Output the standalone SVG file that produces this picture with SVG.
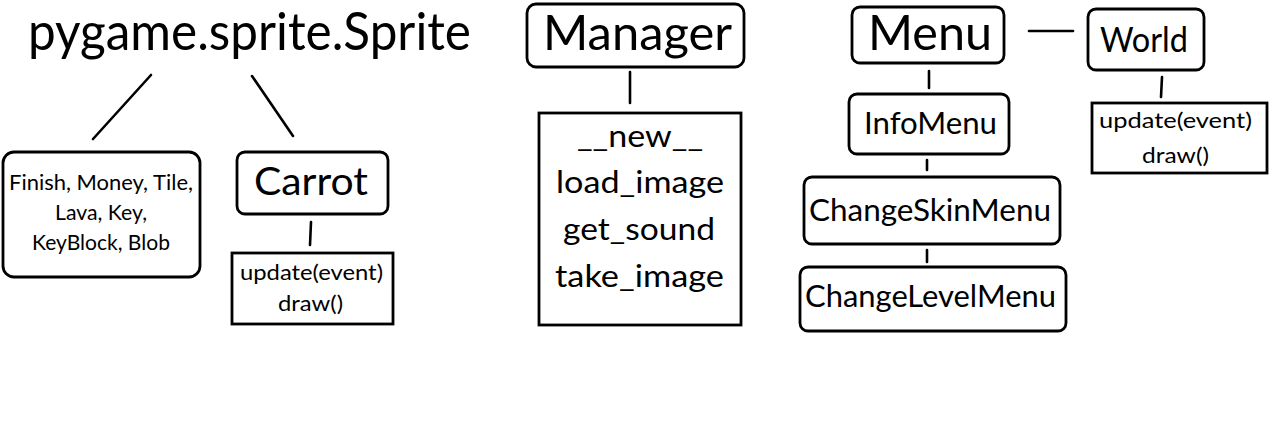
<svg xmlns="http://www.w3.org/2000/svg" width="1280" height="429" viewBox="0 0 1280 429">
<style>
text{font-family:Lato,"Open Sans","Noto Sans",sans-serif;fill:#000;text-anchor:middle}
.b{fill:#fff;stroke:#000;stroke-width:2.8}
.c line{stroke:#000;stroke-width:2.6;stroke-linecap:round}
</style>
<rect width="1280" height="429" fill="#fff"/>
<g id="sprite"><text x="249.5" y="50" font-size="52" textLength="443" lengthAdjust="spacingAndGlyphs">pygame.sprite.Sprite</text></g>
<g id="sprites">
<rect class="b" x="3" y="152" width="197" height="125" rx="11"/>
<text x="101" y="190" font-size="21" textLength="184" lengthAdjust="spacingAndGlyphs">Finish, Money, Tile,</text>
<text x="101" y="220" font-size="21" textLength="92" lengthAdjust="spacingAndGlyphs">Lava, Key,</text>
<text x="101" y="250" font-size="21" textLength="138" lengthAdjust="spacingAndGlyphs">KeyBlock, Blob</text>
</g>
<g id="carrot">
<rect class="b" x="237" y="152" width="151" height="62" rx="8"/>
<text x="311" y="195" font-size="39" textLength="114" lengthAdjust="spacingAndGlyphs">Carrot</text>
</g>
<g id="carrot-methods">
<rect class="b" x="232" y="253" width="161" height="71"/>
<text x="311.5" y="280" font-size="21" textLength="143" lengthAdjust="spacingAndGlyphs">update(event)</text>
<text x="310.5" y="311" font-size="21" textLength="65" lengthAdjust="spacingAndGlyphs">draw()</text>
</g>
<g id="manager">
<rect class="b" x="527" y="4" width="217" height="63" rx="9"/>
<text x="637.5" y="50" font-size="49" textLength="189" lengthAdjust="spacingAndGlyphs">Manager</text>
</g>
<g id="manager-methods">
<rect class="b" x="539" y="113" width="202" height="212"/>
<text x="640" y="147" font-size="30" textLength="126" lengthAdjust="spacingAndGlyphs">__new__</text>
<text x="640" y="193" font-size="30" textLength="168" lengthAdjust="spacingAndGlyphs">load_image</text>
<text x="639" y="240" font-size="30" textLength="152" lengthAdjust="spacingAndGlyphs">get_sound</text>
<text x="639.5" y="287" font-size="30" textLength="169" lengthAdjust="spacingAndGlyphs">take_image</text>
</g>
<g id="menu">
<rect class="b" x="852" y="7" width="152" height="56" rx="8"/>
<text x="930" y="50" font-size="49" textLength="124" lengthAdjust="spacingAndGlyphs">Menu</text>
</g>
<g id="world">
<rect class="b" x="1088" y="9" width="116" height="61" rx="8"/>
<text x="1144" y="52" font-size="35" textLength="88" lengthAdjust="spacingAndGlyphs">World</text>
</g>
<g id="world-methods">
<rect class="b" x="1092" y="103" width="175" height="70"/>
<text x="1175.5" y="128" font-size="21" textLength="153" lengthAdjust="spacingAndGlyphs">update(event)</text>
<text x="1175.5" y="163" font-size="21" textLength="67" lengthAdjust="spacingAndGlyphs">draw()</text>
</g>
<g id="infomenu">
<rect class="b" x="849" y="94" width="160" height="60" rx="8"/>
<text x="930.5" y="134" font-size="30" textLength="133" lengthAdjust="spacingAndGlyphs">InfoMenu</text>
</g>
<g id="changeskinmenu">
<rect class="b" x="804" y="177" width="256" height="67" rx="8"/>
<text x="930" y="221" font-size="31" textLength="242" lengthAdjust="spacingAndGlyphs">ChangeSkinMenu</text>
</g>
<g id="changelevelmenu">
<rect class="b" x="800" y="267" width="266" height="64" rx="8"/>
<text x="930.5" y="307" font-size="30" textLength="251" lengthAdjust="spacingAndGlyphs">ChangeLevelMenu</text>
</g>
<g id="connectors" class="c">
<line x1="151" y1="75" x2="93" y2="139"/>
<line x1="252" y1="76" x2="293" y2="136"/>
<line x1="311" y1="222" x2="310" y2="245"/>
<line x1="630" y1="72" x2="630" y2="103"/>
<line x1="1029" y1="31" x2="1073" y2="31"/>
<line x1="1162" y1="77" x2="1161" y2="97"/>
<line x1="929" y1="71" x2="929" y2="88"/>
<line x1="927" y1="160" x2="927" y2="170"/>
<line x1="927" y1="250" x2="927" y2="262"/>
</g>
</svg>
